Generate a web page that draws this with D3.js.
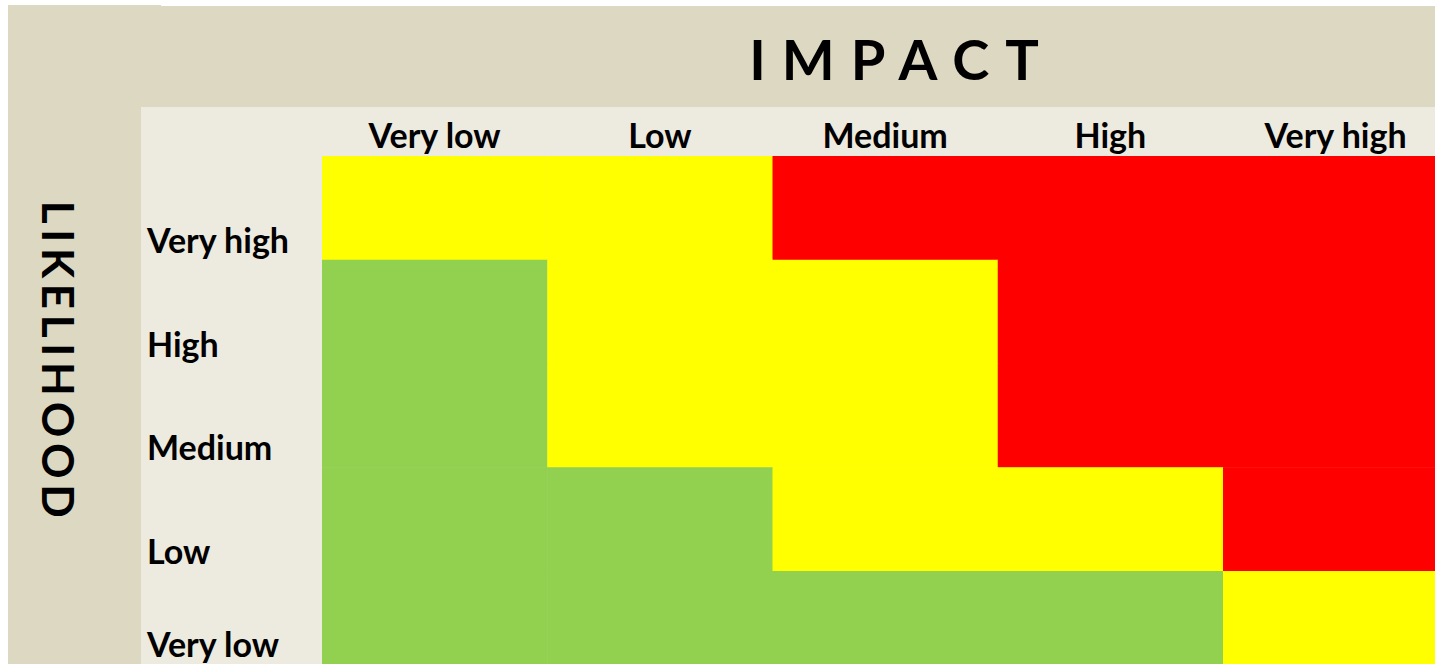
<!DOCTYPE html>
<html lang="en">
    <head>
        <meta charset="utf-8">
        <title>Risk matrix - impact vs likelihood</title>
        <script src="https://d3js.org/d3.v7.min.js"></script>
        <style type="text/css">
            body{
                margin: 0;
                background: white;
            }
            svg{
                display: block;
            }
            .lbl{
                font-family: Lato, "Open Sans", sans-serif;
                font-weight: bold;
                fill: black;
            }
        </style>
    </head>
    <body>
        <svg width="1435" height="664"></svg>
        <script type="text/javascript">

            // data
            const impactLevels = ["Very low", "Low", "Medium", "High", "Very high"];
            const likelihoodLevels = ["Very high", "High", "Medium", "Low", "Very low"];
            // one row per likelihood (top to bottom), one entry per impact (left to right)
            const ratings = [
                ["medium", "medium", "high", "high", "high"],
                ["low", "medium", "medium", "high", "high"],
                ["low", "medium", "medium", "high", "high"],
                ["low", "low", "medium", "medium", "high"],
                ["low", "low", "low", "low", "medium"]
            ];
            const ratingNames = ["low", "medium", "high"];
            const ratingColors = ["#92D050", "#FFFF00", "#FF0000"];

            const width = 1435;
            const height = 664;

            // grid area (runs past the right and bottom edge of the picture)
            const gridLeft = 322;
            const gridTop = 156;
            const cellW = 225.25;
            const cellH = 103.75;

            const svg = d3.select("svg");

            const xScale = d3.scaleBand()
                .domain(impactLevels)
                .range([gridLeft, gridLeft + cellW * impactLevels.length]);

            const yScale = d3.scaleBand()
                .domain(likelihoodLevels)
                .range([gridTop, gridTop + cellH * likelihoodLevels.length]);

            const colorScale = d3.scaleOrdinal()
                .domain(ratingNames)
                .range(ratingColors);

            // backgrounds
            svg.append("rect")
                .attr("x", 8)
                .attr("y", 5)
                .attr("width", 153)
                .attr("height", height)
                .attr("fill", "#DDD8C2");

            svg.append("rect")
                .attr("x", 161)
                .attr("y", 6)
                .attr("width", width)
                .attr("height", height)
                .attr("fill", "#DDD8C2");

            svg.append("rect")
                .attr("x", 141)
                .attr("y", 107)
                .attr("width", width)
                .attr("height", height)
                .attr("fill", "#EDEADF");

            // cells
            const cells = [];
            ratings.forEach((row, i) => {
                row.forEach((r, j) => {
                    cells.push({likelihood: likelihoodLevels[i], impact: impactLevels[j], rating: r});
                });
            });

            svg.append("g")
                .selectAll("rect")
                .data(cells)
                .join("rect")
                .attr("x", d => xScale(d.impact))
                .attr("y", d => yScale(d.likelihood))
                .attr("width", xScale.bandwidth() + 0.5)
                .attr("height", yScale.bandwidth() + 0.5)
                .attr("fill", d => colorScale(d.rating));

            // column labels
            svg.append("g")
                .selectAll("text")
                .data(impactLevels)
                .join("text")
                .attr("class", "lbl")
                .attr("x", d => xScale(d) + xScale.bandwidth() / 2)
                .attr("y", 148)
                .attr("text-anchor", "middle")
                .attr("font-size", "34px")
                .text(d => d);

            // row labels (last one sits a bit higher so it stays in the picture)
            svg.append("g")
                .selectAll("text")
                .data(likelihoodLevels)
                .join("text")
                .attr("class", "lbl")
                .attr("x", 147)
                .attr("y", d => Math.min(yScale(d) + yScale.bandwidth() - 7, height - 7))
                .attr("font-size", "34px")
                .text(d => d);

            // axis titles
            svg.append("text")
                .attr("class", "lbl")
                .attr("x", 894 + 8)
                .attr("y", 80)
                .attr("text-anchor", "middle")
                .attr("font-size", "56px")
                .attr("letter-spacing", "16px")
                .text("IMPACT");

            svg.append("text")
                .attr("class", "lbl")
                .attr("transform", "translate(42, 362) rotate(90)")
                .attr("text-anchor", "middle")
                .attr("font-size", "44px")
                .attr("letter-spacing", "5.7px")
                .text("LIKELIHOOD");

        </script>
    </body>
</html>
